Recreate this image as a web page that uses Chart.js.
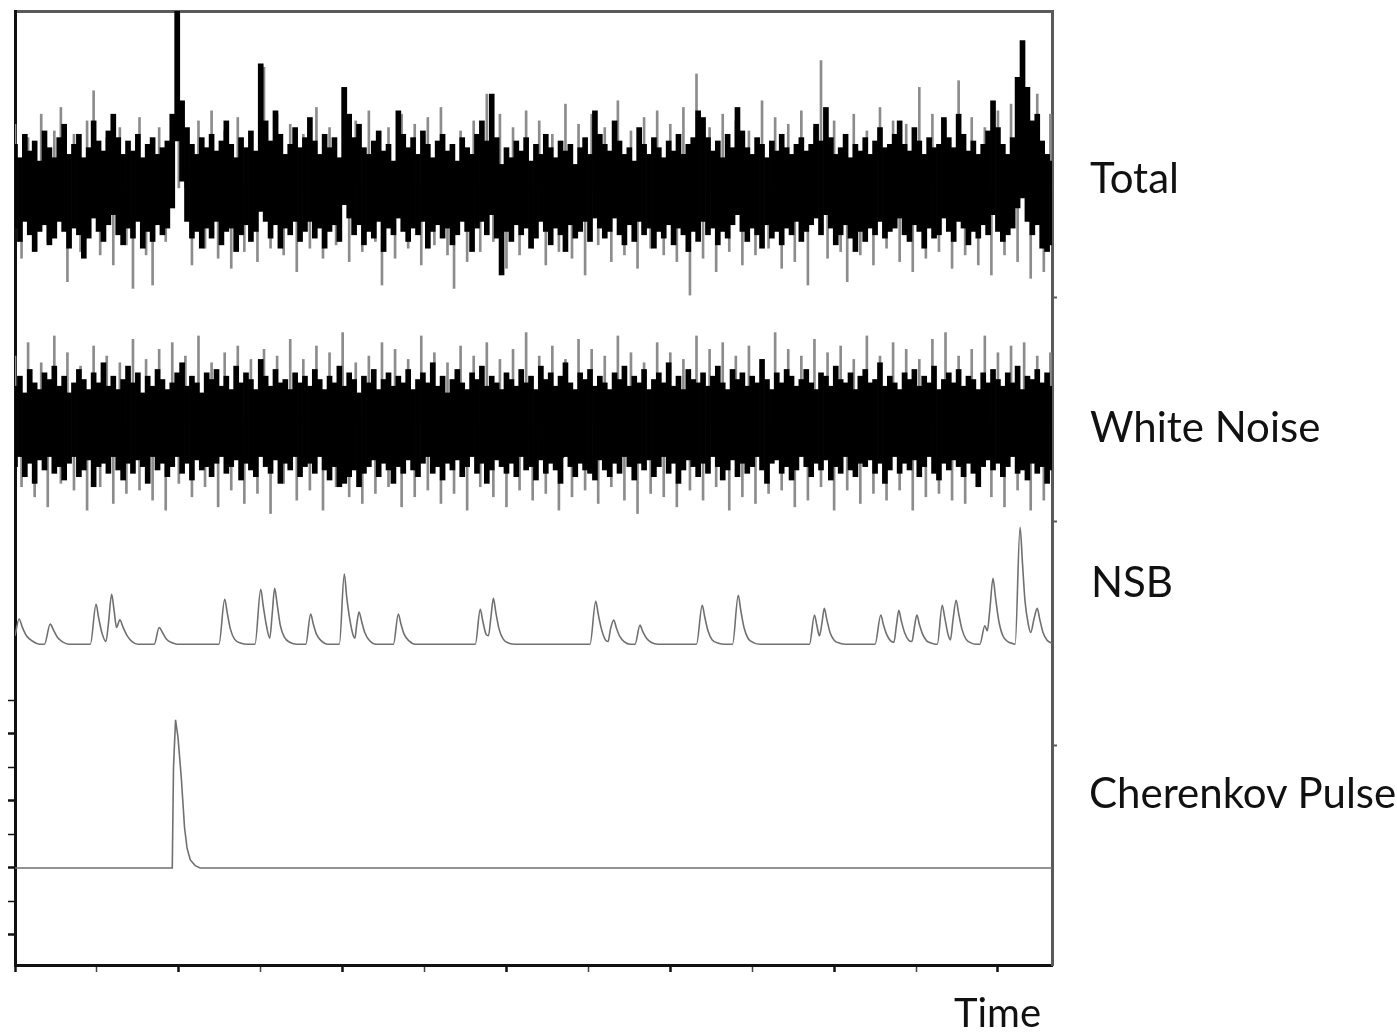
<!DOCTYPE html>
<html lang="en">
<head>
<meta charset="UTF-8">
<title>Signal components</title>
<script src="https://cdn.jsdelivr.net/npm/chart.js"></script>
<style>
  body { margin: 0; background: #fff; overflow: hidden; }
  .page { position: relative; width: 1397px; height: 1034px; }
  .chartBox { position: absolute; left: 0; top: 0; width: 1397px; height: 1034px; z-index: 1; }
  .label { position: absolute; font-family: Lato, 'Noto Sans', sans-serif; font-size: 42px; line-height: 1; color: #111; white-space: nowrap; z-index: 2; }
  .placeholder { z-index: 0; font-size: 38px; }
</style>
</head>
<body>
<div class="page">
  <div class="label placeholder" style="left:522px; top:424px">Text</div>
  <div class="chartBox"><canvas id="grafico"></canvas></div>
  <div class="label" style="left:1090px; top:156px">Total</div>
  <div class="label" style="left:1090px; top:405px">White Noise</div>
  <div class="label" style="left:1091px; top:560px">NSB</div>
  <div class="label" style="left:1089px; top:771px">Cherenkov Pulse</div>
  <div class="label" style="left:954px; top:992px; font-size:40px">Time</div>
</div>
<script>
// sample spacing of the noise traces (time units)
const noiseStep = 6;
const spikeStep = 8;

// Total: upper / lower edge of the dark band, one value per sample
const totalHigh = [
  1.3, 0.9, 1.6, 1.1, 1.4, 0.8, 1.7, 1.2, 0.9, 1.5, 1.9, 1.0, 1.3, 1.6, 0.9, 1.2, 2.0, 1.4, 1.1, 1.7,
  2.2, 1.5, 1.0, 1.4, 1.1, 1.6, 0.9, 1.3, 1.5, 1.0, 1.2, 1.4, 2.2, 5.3, 2.6, 1.8, 1.3, 1.0, 1.5, 1.2,
  1.6, 1.1, 1.4, 2.0, 1.3, 0.9, 1.5, 1.2, 1.7, 1.1, 3.7, 2.0, 1.4, 2.3, 1.6, 1.0, 1.3, 1.8, 1.2, 1.5,
  2.1, 1.4, 1.0, 1.6, 1.2, 1.5, 0.9, 3.0, 2.2, 1.5, 1.9, 1.2, 1.0, 1.4, 1.7, 1.1, 1.3, 0.8, 2.3, 1.6,
  1.2, 1.5, 1.0, 1.7, 1.3, 0.9, 1.4, 1.6, 1.1, 1.3, 0.8, 1.5, 1.2, 1.0, 1.6, 2.0, 1.4, 2.8, 1.5, 0.7,
  1.2, 0.9, 1.4, 1.1, 1.5, 0.8, 1.3, 1.0, 1.6, 1.2, 0.9, 1.4, 1.1, 1.3, 0.7, 1.2, 1.5, 1.0, 2.3, 1.6,
  1.3, 1.1, 2.0, 1.4, 1.0, 1.2, 0.8, 1.8, 1.3, 1.0, 1.5, 1.2, 0.9, 1.4, 1.1, 1.6, 1.0, 1.3, 1.5, 2.3,
  2.1, 1.5, 1.1, 1.4, 0.9, 1.6, 1.2, 2.4, 1.7, 1.2, 1.0, 1.5, 1.3, 0.9, 1.4, 1.1, 1.6, 1.2, 1.0, 1.3,
  1.5, 1.1, 1.3, 1.9, 1.4, 2.4, 1.5, 1.0, 1.2, 1.6, 0.9, 1.3, 1.1, 1.5, 1.0, 1.4, 1.8, 1.2, 1.3, 1.6,
  2.0, 1.3, 1.1, 1.8, 1.4, 1.0, 1.5, 1.2, 1.3, 2.1, 1.5, 1.2, 2.2, 1.6, 1.1, 1.4, 1.0, 1.3, 1.7, 2.6,
  1.8, 1.3, 1.0, 1.5, 3.3, 4.4, 3.0, 2.0, 2.2, 1.4, 1.0, 0.8
];
const totalLow = [
  -1.2, -1.6, -1.0, -1.4, -1.9, -1.3, -1.1, -1.7, -1.5, -1.0, -1.3, -1.8, -1.2, -1.4, -2.1, -1.5, -0.9, -1.3, -1.6, -1.1,
  -0.8, -1.4, -1.7, -1.2, -1.5, -1.0, -1.8, -1.3, -1.6, -1.1, -1.4, -1.2, -0.6, 1.4, 0.2, -1.0, -1.5, -1.3, -1.8, -1.2,
  -1.5, -1.0, -1.7, -1.3, -1.2, -1.9, -1.4, -1.1, -1.6, -1.3, -0.7, -1.0, -1.5, -1.1, -1.8, -1.2, -1.4, -1.0, -1.6, -1.3,
  -1.0, -1.5, -1.2, -1.8, -1.3, -1.1, -1.6, -0.5, -0.9, -1.4, -1.1, -1.7, -1.3, -1.5, -1.0, -1.9, -1.2, -1.4, -0.9, -1.3,
  -1.6, -1.2, -1.4, -1.0, -1.8, -1.3, -1.1, -1.5, -1.2, -1.7, -1.4, -1.0, -1.3, -1.9, -1.2, -1.0, -1.4, -0.8, -1.5, -2.6,
  -1.3, -1.6, -1.1, -1.4, -1.2, -1.8, -1.5, -1.0, -1.3, -1.7, -1.2, -1.4, -1.9, -1.1, -1.5, -1.3, -1.0, -1.6, -0.9, -1.2,
  -1.5, -1.3, -0.9, -1.4, -1.7, -1.1, -1.6, -1.0, -1.4, -1.2, -1.8, -1.3, -1.5, -1.1, -1.7, -1.2, -1.4, -1.9, -1.3, -1.6,
  -1.0, -1.4, -1.2, -1.7, -1.3, -1.5, -1.1, -0.8, -1.3, -1.6, -1.2, -1.4, -1.8, -1.1, -1.5, -1.3, -1.7, -1.2, -1.4, -1.0,
  -1.6, -1.3, -1.1, -0.9, -1.4, -0.8, -1.2, -1.7, -1.4, -1.1, -1.5, -1.9, -1.3, -1.6, -1.2, -1.4, -1.0, -1.5, -1.3, -1.2,
  -0.9, -1.4, -1.6, -1.1, -1.3, -1.8, -1.2, -1.5, -1.4, -0.9, -1.3, -1.6, -1.0, -1.2, -1.7, -1.3, -1.5, -1.1, -1.4, -0.8,
  -1.3, -1.6, -1.4, -1.2, -0.6, -0.3, -1.0, -1.4, -1.1, -1.8, -1.9, -1.7
];
// Total: the lighter outlying spikes (measured from the trace centre)
const totalSpikes = [
  1.9, -2.1, 1.5, -1.8, 2.2, -1.6, 1.7, 2.4, -2.8, 1.6, -1.9, 2.0, 2.9, -2.0, 1.5, -2.3, 1.8, -1.7, -3.0, 2.1,
  -2.0, -2.9, 1.8, -1.6, 0.5, 5.4, 0.6, -2.3, 2.0, -1.8, 2.3, -2.1, 1.7, -2.4, 2.1, -1.9, 1.6, -2.2, 3.6, -1.8,
  2.2, -2.0, 1.9, -2.5, 1.6, -1.8, 2.4, -2.1, 1.8, -1.7, 3.0, -2.2, 2.0, -1.9, 2.3, -1.6, -2.9, 1.8, -2.1, 2.2,
  -1.8, 1.9, -2.3, 2.1, -1.7, 2.4, -2.0, -3.0, 1.7, -2.2, 2.0, -1.9, 2.8, -1.6, 2.2, -2.4, 1.8, -2.0, 2.3, -1.8,
  2.0, -2.3, 1.6, -1.9, 2.5, -2.1, 1.9, -2.6, 2.2, -1.7, 1.8, -2.2, 2.6, -2.0, 1.7, -2.4, 2.1, -1.8, 2.3, -2.0,
  1.9, -2.2, 2.4, -3.2, 3.4, -2.1, 1.8, -2.5, 2.2, -1.9, 2.0, -2.3, 1.7, -2.0, 2.6, -1.8, 2.1, -2.4, 1.9, -2.2,
  2.3, -2.9, 1.8, 3.8, -2.1, 2.0, -1.9, -2.8, 2.2, -2.0, 1.7, -2.3, 2.4, -1.8, 2.0, -2.2, 1.9, -2.5, 3.0, -2.1,
  2.2, -1.9, 2.0, -2.4, 3.2, -2.0, 2.1, -2.3, 1.8, -2.6, 2.3, -2.0, 2.5, -2.2, 2.0, -2.7, 2.8, -2.5, 2.2
];

// White noise: upper / lower edge of the dark band
const noiseHigh = [
  1.1, 1.4, 0.9, 1.6, 1.2, 1.0, 1.5, 1.3, 1.7, 1.1, 1.4, 0.9, 1.2, 1.6, 1.3, 1.0, 1.5, 1.2, 1.8, 1.1,
  1.4, 1.0, 1.3, 1.7, 1.2, 1.5, 0.9, 1.4, 1.1, 1.6, 1.3, 1.0, 1.2, 1.5, 1.8, 1.1, 1.4, 1.2, 0.9, 1.5,
  1.3, 1.6, 1.1, 1.4, 1.0, 1.7, 1.2, 1.5, 1.3, 1.0, 1.9, 1.4, 1.1, 1.6, 1.2, 1.3, 1.0, 1.5, 1.2, 1.4,
  1.1, 1.6, 1.3, 1.0, 1.4, 1.2, 1.7, 1.1, 1.5, 1.3, 0.9, 1.4, 1.2, 1.6, 1.0, 1.3, 1.5, 1.1, 1.4, 1.2,
  1.6, 1.0, 1.3, 1.5, 1.2, 1.8, 1.1, 1.4, 0.9, 1.3, 1.6, 1.2, 1.0, 1.5, 1.3, 1.7, 1.1, 1.4, 1.2, 1.0,
  1.5, 1.3, 1.1, 1.6, 1.2, 1.4, 1.0, 1.7, 1.3, 1.5, 1.1, 1.4, 1.8, 1.2, 1.0, 1.5, 1.3, 1.6, 1.1, 1.4,
  1.2, 1.0, 1.5, 1.3, 1.7, 1.1, 1.4, 1.2, 1.6, 1.0, 1.3, 1.5, 1.2, 1.8, 1.1, 1.4, 1.0, 1.6, 1.3, 1.2,
  1.5, 1.1, 1.4, 1.7, 1.2, 1.0, 1.6, 1.3, 1.5, 1.1, 1.4, 1.2, 1.9, 1.3, 1.0, 1.5, 1.2, 1.6, 1.4, 1.1,
  1.3, 1.6, 1.2, 1.0, 1.5, 1.4, 1.1, 1.7, 1.3, 1.2, 1.5, 1.0, 1.4, 1.6, 1.2, 1.3, 1.8, 1.1, 1.4, 1.2,
  1.0, 1.5, 1.3, 1.6, 1.1, 1.4, 1.2, 1.7, 1.0, 1.3, 1.5, 1.2, 1.6, 1.1, 1.4, 1.3, 1.0, 1.5, 1.2, 1.6,
  1.3, 1.1, 1.5, 1.2, 1.7, 1.0, 1.4, 1.3, 1.6, 1.2, 1.5, 1.1
];
const noiseLow = [
  -1.3, -1.0, -1.6, -1.2, -1.8, -1.1, -1.4, -1.0, -1.5, -1.3, -1.7, -1.2, -1.0, -1.6, -1.4, -1.1, -1.9, -1.3, -1.2, -1.5,
  -1.0, -1.4, -1.7, -1.2, -1.5, -1.1, -1.3, -1.8, -1.0, -1.4, -1.2, -1.6, -1.3, -1.0, -1.5, -1.2, -1.7, -1.1, -1.4, -1.3,
  -1.6, -1.2, -1.0, -1.5, -1.3, -1.1, -1.7, -1.2, -1.4, -1.6, -1.0, -1.3, -1.5, -1.1, -1.8, -1.2, -1.4, -1.0, -1.6, -1.3,
  -1.2, -1.5, -1.0, -1.4, -1.7, -1.3, -1.9, -1.8, -1.6, -1.4, -1.9, -1.5, -1.3, -1.1, -1.6, -1.2, -1.4, -1.8, -1.3, -1.5,
  -1.1, -1.4, -1.6, -1.2, -1.0, -1.5, -1.3, -1.7, -1.2, -1.4, -1.1, -1.6, -1.3, -1.0, -1.5, -1.2, -1.8, -1.4, -1.1, -1.3,
  -1.5, -1.2, -1.6, -1.0, -1.4, -1.3, -1.7, -1.1, -1.5, -1.2, -1.4, -1.8, -1.0, -1.3, -1.6, -1.2, -1.4, -1.5, -1.7, -1.1,
  -1.4, -1.6, -1.2, -1.5, -1.0, -1.3, -1.7, -1.2, -1.4, -1.1, -1.6, -1.3, -1.0, -1.5, -1.2, -1.8, -1.4, -1.1, -1.3, -1.6,
  -1.2, -1.5, -1.0, -1.3, -1.7, -1.4, -1.1, -1.6, -1.2, -1.5, -1.3, -1.0, -1.4, -1.8, -1.2, -1.1, -1.5, -1.3, -1.7, -1.4,
  -1.0, -1.3, -1.6, -1.2, -1.4, -1.1, -1.7, -1.3, -1.5, -1.0, -1.4, -1.6, -1.2, -1.3, -1.1, -1.5, -1.2, -1.8, -1.4, -1.0,
  -1.5, -1.2, -1.4, -1.1, -1.6, -1.3, -1.0, -1.5, -1.7, -1.2, -1.4, -1.1, -1.3, -1.6, -1.2, -1.5, -1.9, -1.3, -1.1, -1.4,
  -1.2, -1.6, -1.3, -1.0, -1.5, -1.4, -1.7, -1.2, -1.5, -1.3, -1.8, -1.4
];
const noiseSpikes = [
  2.0, -1.9, 2.4, -2.2, 1.8, -2.5, 2.6, -1.8, 2.1, -2.0, 1.7, -2.6, 2.3, -1.9, 2.0, -2.4, 1.8, -2.1, 2.5, -2.0,
  1.9, -2.3, 2.2, -2.6, 2.4, -1.8, 2.0, -2.2, 2.6, -1.9, 1.8, -2.5, 2.1, -2.0, 2.3, -2.4, 1.9, -2.1, 2.2, -2.7,
  2.0, -1.8, 2.5, -2.3, 1.9, -2.0, 2.3, -2.6, 2.1, -1.9, 2.7, -2.2, 1.8, -2.4, 2.0, -2.1, 2.4, -1.9, 2.2, -2.5,
  1.9, -2.2, 2.6, -2.0, 2.1, -2.4, 1.8, -2.1, 2.3, -2.6, 2.0, -1.9, 2.4, -2.2, 1.9, -2.5, 2.2, -2.0, 2.7, -2.3,
  2.0, -2.1, 2.3, -2.6, 1.9, -2.2, 2.5, -2.0, 2.2, -2.4, 2.0, -1.9, 2.6, -2.3, 2.1, -2.7, 1.8, -2.1, 2.4, -2.2,
  2.1, -2.5, 1.9, -2.0, 2.6, -2.3, 2.2, -1.9, 2.4, -2.6, 2.0, -2.2, 2.3, -2.4, 1.9, -2.1, 2.7, -2.0, 2.2, -2.5,
  2.0, -2.3, 2.5, -1.9, 2.1, -2.6, 2.3, -2.0, 1.9, -2.4, 2.6, -2.1, 2.0, -2.3, 2.4, -2.0, 2.2, -2.6, 1.9, -2.2,
  2.5, -2.1, 2.7, -2.3, 2.0, -2.4, 2.2, -1.9, 2.6, -2.2, 2.1, -2.5, 2.3, -2.0, 2.4, -2.6, 2.0, -2.3, 2.1
];

// Night sky background: trace vertices
const nsbTime = [
  0, 5, 9, 14, 22, 30,
  36, 43, 47, 52, 58, 66,
  92, 99, 102, 106, 111, 114, 118, 121, 124, 128, 132, 137, 143, 150,
  170, 176, 180, 185, 192, 198,
  249, 256, 259, 263, 268, 276, 284,
  293, 300, 303, 307, 311, 314, 317, 320, 324, 329, 336, 344,
  355, 361, 364, 368, 374, 382,
  396, 402, 405, 409, 413, 415, 417, 420, 423, 427, 433, 441,
  462, 468, 471, 475, 481, 489,
  562, 568, 571, 575, 578, 581, 584, 587, 591, 596, 603, 611,
  702, 709, 712, 716, 721, 724, 727, 731, 734, 738, 744, 751,
  757, 763, 766, 771, 777, 785,
  832, 839, 842, 846, 851, 859, 866,
  876, 883, 886, 890, 895, 902, 910,
  970, 976, 979, 982, 985, 988, 991, 995, 1000, 1007, 1014,
  1050, 1057, 1060, 1064, 1069, 1073, 1076, 1079, 1082, 1086, 1091, 1095, 1098, 1101, 1104, 1108, 1113, 1119, 1124,
  1126, 1132, 1135, 1139, 1142, 1145, 1149, 1152, 1156, 1161, 1167, 1173,
  1178, 1184, 1187, 1190, 1194, 1197, 1201, 1206, 1212, 1218, 1221, 1227, 1230, 1233, 1237, 1240, 1244, 1248, 1251, 1255, 1260, 1266
];
const nsbLevel = [
  0.25, 0.75, 0.5, 0.25, 0.08, 0,
  0, 0.6, 0.42, 0.2, 0.07, 0,
  0, 1.19, 0.8, 0.35, 0.08, 0.6, 1.49, 1.0, 0.5, 0.73, 0.5, 0.25, 0.08, 0,
  0, 0.5, 0.35, 0.15, 0.04, 0,
  0, 1.34, 0.95, 0.45, 0.15, 0.03, 0,
  0, 1.64, 1.15, 0.55, 0.18, 0.9, 1.67, 1.2, 0.55, 0.2, 0.05, 0,
  0, 0.9, 0.62, 0.3, 0.1, 0,
  0, 2.09, 1.4, 0.7, 0.25, 0.18, 0.55, 0.96, 0.7, 0.35, 0.1, 0,
  0, 0.9, 0.62, 0.3, 0.1, 0,
  0, 1.04, 0.7, 0.3, 0.25, 0.8, 1.37, 0.95, 0.45, 0.15, 0.03, 0,
  0, 1.28, 0.9, 0.45, 0.12, 0.08, 0.45, 0.72, 0.5, 0.25, 0.07, 0,
  0, 0.57, 0.4, 0.18, 0.05, 0,
  0, 1.16, 0.82, 0.4, 0.13, 0.03, 0,
  0, 1.46, 1.02, 0.5, 0.17, 0.04, 0,
  0, 0.87, 0.55, 0.25, 0.6, 1.07, 0.75, 0.35, 0.12, 0.03, 0,
  0, 0.87, 0.6, 0.3, 0.1, 0.06, 0.55, 1.01, 0.7, 0.35, 0.12, 0.08, 0.5, 0.87, 0.6, 0.3, 0.1, 0.03, 0,
  0, 1.16, 0.8, 0.3, 0.13, 0.7, 1.31, 0.92, 0.45, 0.15, 0.04, 0,
  0, 0.55, 0.4, 1.0, 1.97, 1.4, 0.7, 0.25, 0.08, 0.02, 0, 3.49, 2.4, 1.3, 0.6, 0.35, 0.75, 1.07, 0.75, 0.35, 0.12, 0.03
];

// Cherenkov pulse vertices
const cherTime  = [0, 192, 193.5, 196, 199, 203, 207, 210, 214, 220, 226, 1266];
const cherLevel = [0, 0, 3.0, 4.42, 3.9, 2.7, 1.2, 0.6, 0.24, 0.07, 0, 0];

// vertical place of each trace on the shared axis
const traceOffset = { total: 20.3, noise: 13.28, nsb: 6.68, cherenkov: 0 };

function bandPoints(high, low, offset) {
    let pts = [];
    for (let i = 0; i < Math.min(high.length, low.length); i++) {
        pts.push({ x: i * noiseStep, y: [offset + low[i], offset + high[i]] });
    }
    return pts;
}

// each spike is a thin bar from the trace centre out to its value
function spikePoints(values, offset) {
    return values.map((v, i) => ({ x: i * spikeStep, y: [offset, offset + v] }));
}

function tracePoints(times, levels, offset) {
    return times.map((t, i) => ({ x: t, y: offset + levels[i] }));
}

const clear = 'rgba(0,0,0,0)';

const config = {
    type: 'line',
    data: {
        datasets: [
            {
                type: 'bar', label: 'Total', data: bandPoints(totalHigh, totalLow, traceOffset.total),
                backgroundColor: '#000', borderWidth: 0, grouped: false, barThickness: 5, order: 1
            },
            {
                type: 'bar', label: 'White Noise', data: bandPoints(noiseHigh, noiseLow, traceOffset.noise),
                backgroundColor: '#000', borderWidth: 0, grouped: false, barThickness: 5, order: 1
            },
            {
                type: 'bar', label: 'Total spikes', data: spikePoints(totalSpikes, traceOffset.total),
                backgroundColor: '#8c8c8c', borderWidth: 0, grouped: false, barThickness: 2, order: 3
            },
            {
                type: 'bar', label: 'White Noise spikes', data: spikePoints(noiseSpikes, traceOffset.noise),
                backgroundColor: '#8c8c8c', borderWidth: 0, grouped: false, barThickness: 2, order: 3
            },
            {
                label: 'NSB', data: tracePoints(nsbTime, nsbLevel, traceOffset.nsb),
                borderColor: '#707070', borderWidth: 1.6, cubicInterpolationMode: 'monotone', order: 2
            },
            {
                label: 'Cherenkov Pulse', data: tracePoints(cherTime, cherLevel, traceOffset.cherenkov),
                borderColor: '#707070', borderWidth: 1.6, order: 2
            }
        ]
    },
    options: {
        responsive: true,
        maintainAspectRatio: false,
        animation: false,
        devicePixelRatio: 1,
        layout: { padding: { left: 8, top: 11, right: 340, bottom: 62 } },
        elements: { point: { radius: 0 }, line: { tension: 0 } },
        plugins: { legend: { display: false }, tooltip: { enabled: false } },
        scales: {
            x: {
                type: 'linear', position: 'bottom', min: 0, max: 1266, offset: false,
                ticks: { display: false, stepSize: 100, includeBounds: false },
                grid: {
                    offset: false, drawOnChartArea: false, drawTicks: true, tickLength: 7,
                    tickColor: c => (c.tick && c.tick.value % 200 === 0) ? '#111' : '#444',
                    tickWidth: c => (c.tick && c.tick.value % 200 === 0) ? 2.5 : 1.5
                },
                border: { color: '#111', width: 3 }
            },
            xTop: {
                type: 'linear', position: 'top', min: 0, max: 1266,
                ticks: { display: false },
                grid: { display: false, drawTicks: false },
                border: { color: '#5a5a5a', width: 3 }
            },
            y: {
                type: 'linear', position: 'left', min: -2.896, max: 25.58,
                ticks: { display: false, stepSize: 1, includeBounds: false },
                grid: {
                    drawOnChartArea: false, drawTicks: true, tickLength: 7,
                    tickColor: c => (c.tick && c.tick.value >= -2 && c.tick.value <= 5) ? '#111' : clear,
                    tickWidth: c => (c.tick && c.tick.value % 2 === 0) ? 2.5 : 1.5
                },
                border: { color: '#111', width: 3 }
            },
            y2: {
                type: 'linear', position: 'right', min: 0.0157, max: 4.284,
                ticks: { display: false, stepSize: 1, includeBounds: false },
                grid: {
                    drawOnChartArea: false, drawTicks: true, tickLength: 5,
                    tickColor: c => (c.tick && c.tick.value >= 1 && c.tick.value <= 3) ? '#5a5a5a' : clear,
                    tickWidth: 2
                },
                border: { color: '#5a5a5a', width: 3 }
            }
        }
    }
};

new Chart(document.getElementById('grafico'), config);
</script>
</body>
</html>
